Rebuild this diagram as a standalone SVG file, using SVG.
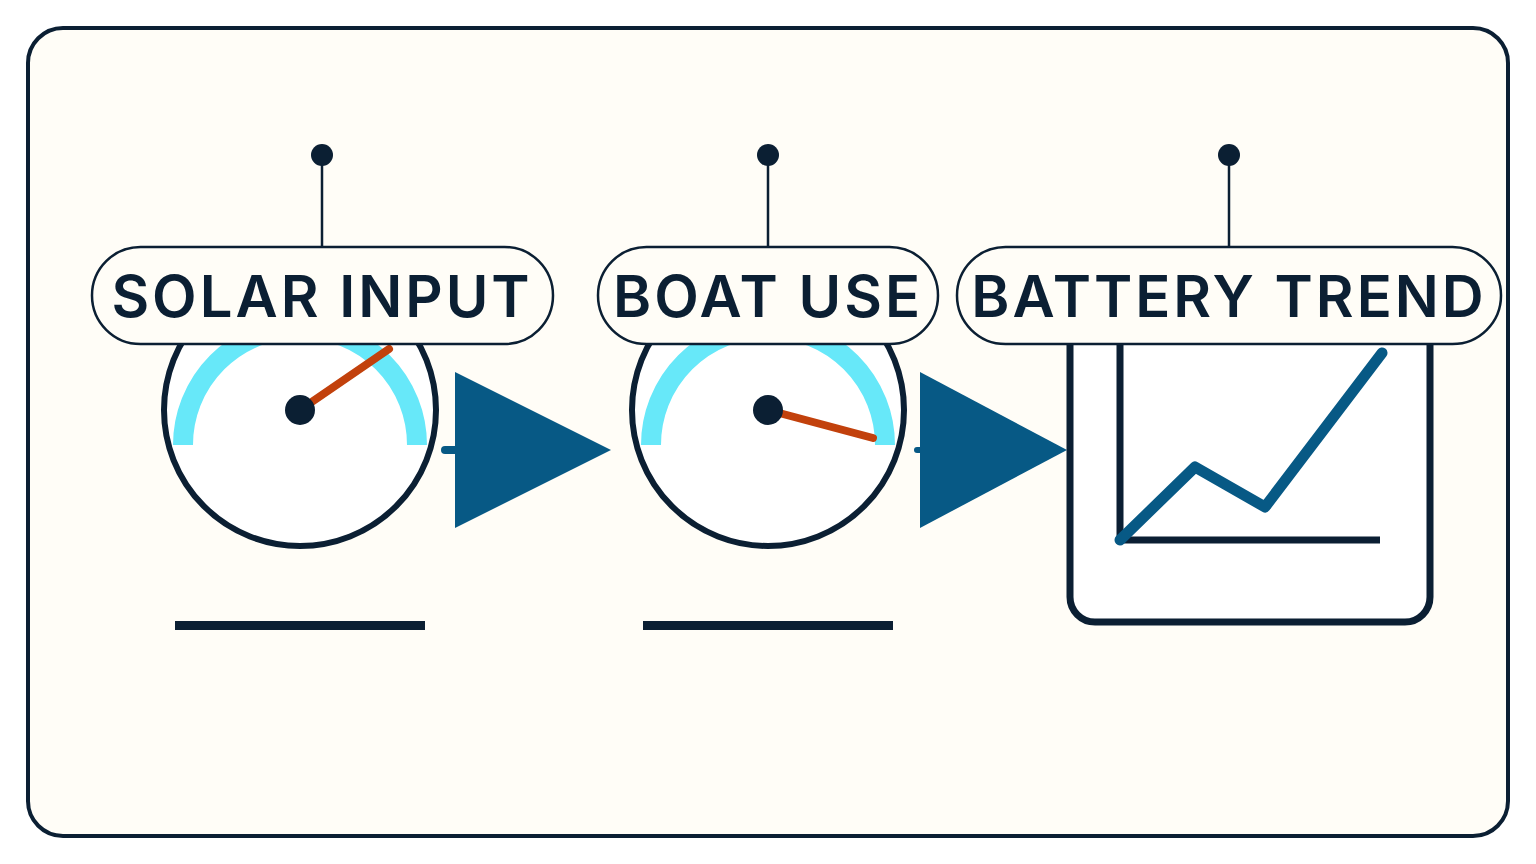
<svg xmlns="http://www.w3.org/2000/svg" width="1536" height="864" viewBox="0 0 1536 864">
<style>
.ring{fill:#fff;stroke:#0b1f33;stroke-width:6}
.band{fill:none;stroke:#67e8f9;stroke-width:20}
.needle{stroke:#c2410c;stroke-width:8;stroke-linecap:round}
.hub{fill:#0b1f33}
.pill{fill:#fffdf7;stroke:#0b1f33;stroke-width:2.5}
.lbl{font-family:Inter,"Liberation Sans",sans-serif;font-weight:600;font-size:58px;fill:#0b1f33;text-anchor:middle;letter-spacing:3px}
.pin{stroke:#0b1f33;stroke-width:2.5}
.arrow{fill:#075985}
</style>
<rect x="28" y="28" width="1480" height="808" rx="35" fill="#fffdf7" stroke="#0b1f33" stroke-width="4"/>
<g id="connectors">
<line x1="445" y1="450" x2="458" y2="450" stroke="#075985" stroke-width="8" stroke-linecap="round"/>
<polygon class="arrow" points="455,372 611,450 455,528"/>
<line x1="917" y1="450" x2="922" y2="450" stroke="#075985" stroke-width="6" stroke-linecap="round"/>
<polygon class="arrow" points="920,372 1067,450 920,528"/>
</g>
<g id="solar">
<circle class="ring" cx="300" cy="410" r="136"/>
<path class="band" d="M183,445 A117,117 0 0 1 417,445"/>
<line class="needle" x1="300" y1="410" x2="389" y2="349"/>
<circle class="hub" cx="300" cy="410" r="15"/>
<rect x="175" y="621" width="250" height="9" fill="#0b1f33"/>
<line class="pin" x1="322" y1="160" x2="322" y2="247"/>
<circle class="hub" cx="322" cy="155" r="11"/>
<rect class="pill" x="92" y="247" width="461" height="97" rx="48.5"/>
<text class="lbl" x="322" y="317">SOLAR INPUT</text>
</g>
<g id="boat">
<circle class="ring" cx="768" cy="410" r="136"/>
<path class="band" d="M651,445 A117,117 0 0 1 885,445"/>
<line class="needle" x1="768" y1="410" x2="873" y2="438"/>
<circle class="hub" cx="768" cy="410" r="15"/>
<rect x="643" y="621" width="250" height="9" fill="#0b1f33"/>
<line class="pin" x1="768" y1="160" x2="768" y2="247"/>
<circle class="hub" cx="768" cy="155" r="11"/>
<rect class="pill" x="598" y="247" width="340" height="97" rx="48.5"/>
<text class="lbl" x="768" y="317">BOAT USE</text>
</g>
<g id="battery">
<rect x="1070" y="300" width="360" height="322" rx="25" fill="#fff" stroke="#0b1f33" stroke-width="7"/>
<polyline points="1120,340 1120,540 1380,540" fill="none" stroke="#0b1f33" stroke-width="7"/>
<polyline points="1120,540 1195,467 1265,507 1382,353" fill="none" stroke="#075985" stroke-width="11" stroke-linecap="round" stroke-linejoin="round"/>
<line class="pin" x1="1229" y1="160" x2="1229" y2="247"/>
<circle class="hub" cx="1229" cy="155" r="11"/>
<rect class="pill" x="957" y="247" width="544" height="97" rx="48.5"/>
<text class="lbl" x="1229" y="317">BATTERY TREND</text>
</g>
</svg>
